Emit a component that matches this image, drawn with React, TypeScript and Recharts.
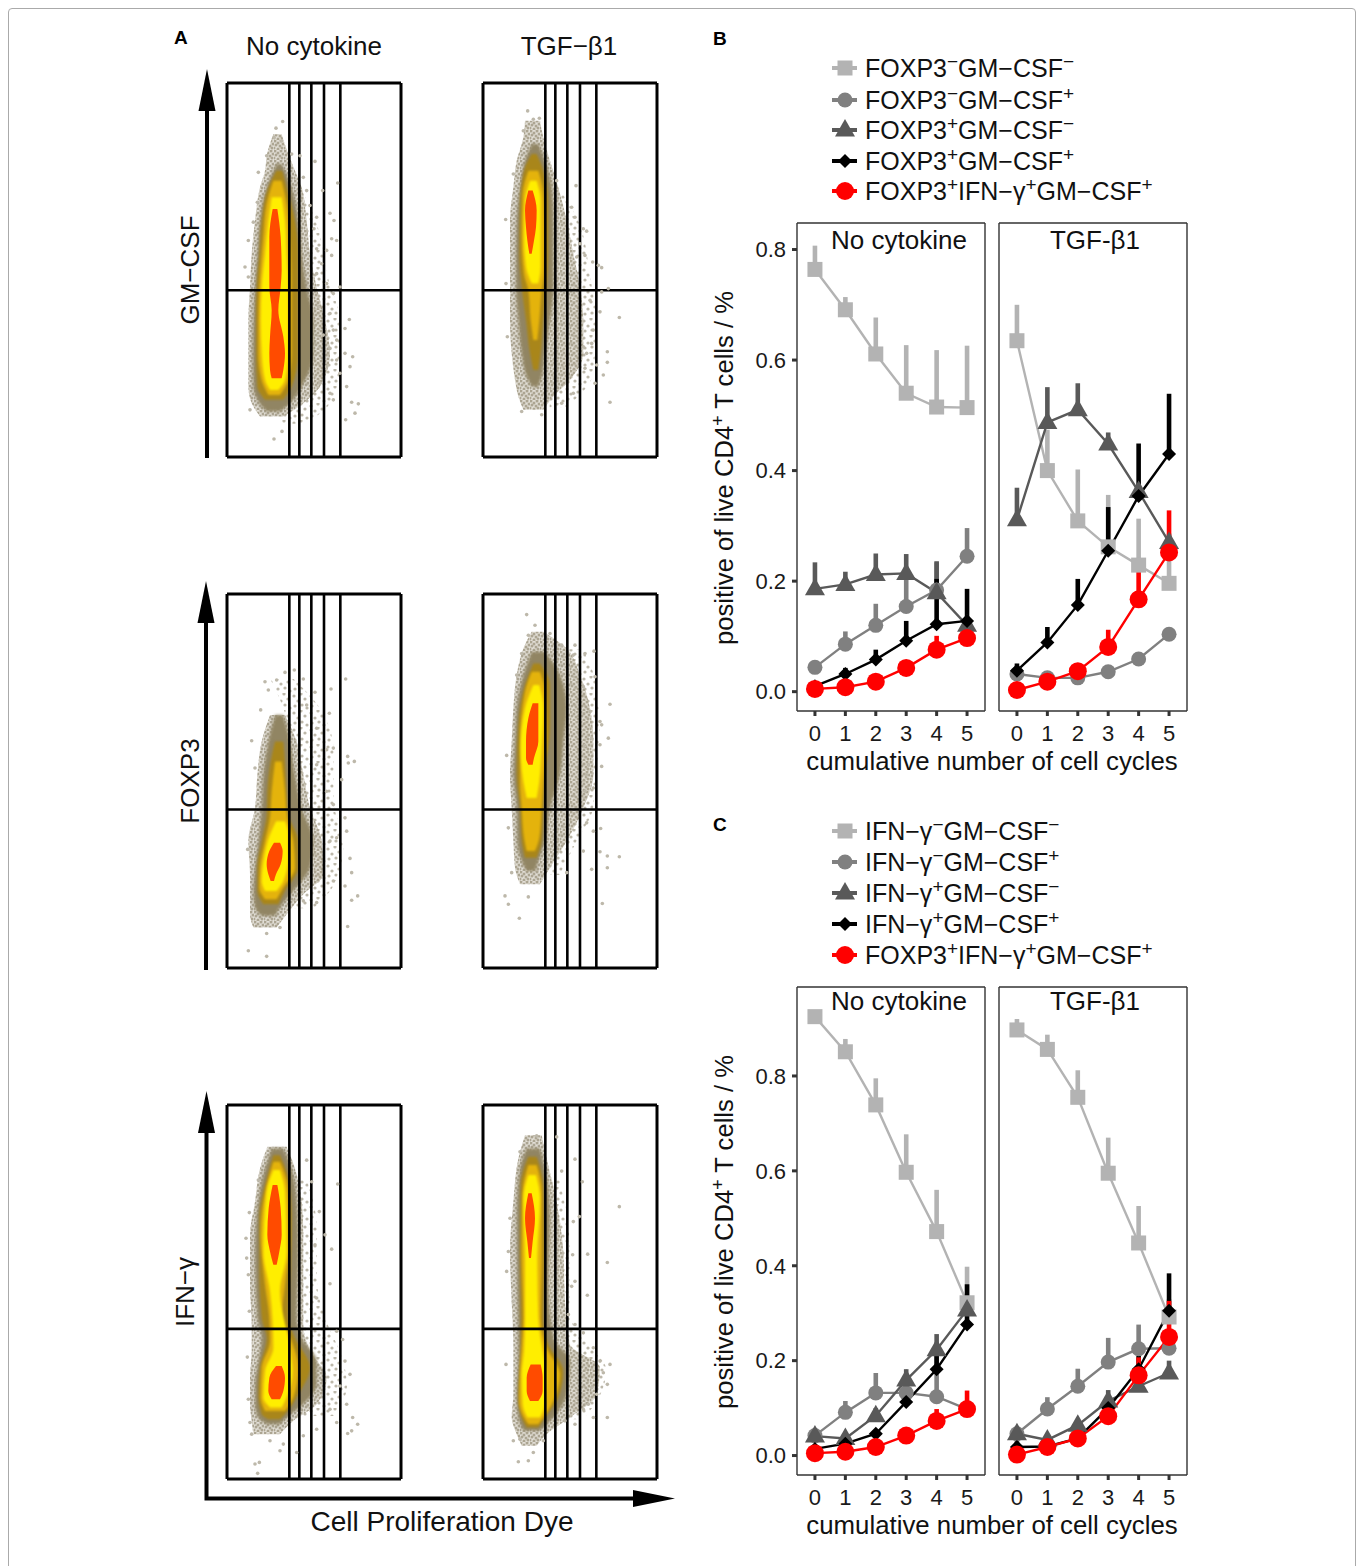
import { Area, ComposedChart, ErrorBar, Line, LineChart, ReferenceLine, Scatter, XAxis, YAxis } from 'recharts'

// flow panels: [marker, dye low, dye high] per density level
type BandRow = [number, number, number]

const gates = [187, 217, 253, 291, 340]

const gmNoHaze: BandRow[] = [[850, 164, 200], [700, 164, 270], [550, 164, 300], [400, 164, 340], [250, 164, 340], [150, 164, 300], [100, 164, 230]]
const gmNoTan: BandRow[] = [[972, 139, 164], [912, 120, 184], [862, 114, 204], [812, 99, 224], [712, 84, 239], [612, 74, 249], [512, 69, 269], [412, 64, 294], [312, 64, 309], [212, 64, 279], [162, 74, 229], [122, 99, 169]]
const gmNoBrown: BandRow[] = [[882, 149, 164], [812, 119, 194], [712, 99, 214], [612, 91, 224], [512, 84, 239], [412, 79, 259], [312, 77, 259], [212, 79, 224], [162, 97, 189], [137, 119, 159]]
const gmNoOlive: BandRow[] = [[862, 148, 166], [812, 124, 179], [712, 104, 204], [612, 97, 214], [512, 89, 214], [412, 87, 214], [312, 87, 214], [212, 91, 194], [172, 114, 169]]
const gmNoGold: BandRow[] = [[832, 139, 164], [762, 119, 179], [662, 109, 189], [512, 97, 194], [412, 94, 194], [312, 94, 194], [232, 104, 184], [187, 124, 159]]
const gmNoYellow: BandRow[] = [[782, 134, 164], [712, 124, 174], [612, 114, 179], [512, 104, 184], [412, 101, 184], [312, 104, 184], [232, 114, 174], [202, 129, 154]]
const gmNoRed: BandRow[] = [[747, 137, 151], [662, 127, 161], [562, 127, 164], [512, 127, 161], [442, 134, 154], [362, 129, 169], [312, 127, 174], [262, 129, 169], [237, 134, 164]]
const gmNoDots = [[167, 1010], [147, 990], [141, 962], [164, 952], [119, 907], [194, 912], [219, 907], [264, 890], [94, 857], [229, 842], [332, 825], [239, 802], [287, 802], [91, 767], [249, 757], [309, 734], [269, 722], [321, 712], [79, 707], [261, 687], [314, 657], [329, 652], [64, 652], [269, 627], [299, 622], [314, 607], [54, 572], [284, 582], [64, 542], [319, 492], [269, 552], [299, 522], [339, 512], [274, 452], [309, 432], [367, 414], [354, 387], [319, 382], [289, 367], [329, 352], [309, 327], [354, 312], [377, 302], [329, 292], [299, 272], [369, 272], [339, 252], [359, 212], [309, 192], [319, 172], [374, 165], [394, 160], [384, 132], [356, 112], [165, 77], [141, 54], [69, 142], [279, 222]]

const gmTgfHaze: BandRow[] = [[850, 181, 200], [700, 200, 290], [550, 200, 320], [400, 200, 340], [250, 200, 330], [150, 200, 250]]
const gmTgfTan: BandRow[] = [[1012, 126, 171], [962, 121, 181], [892, 101, 201], [812, 91, 226], [712, 81, 251], [612, 81, 271], [512, 81, 291], [412, 81, 301], [312, 86, 301], [232, 96, 261], [182, 106, 211], [142, 121, 181]]
const gmTgfBrown: BandRow[] = [[942, 146, 166], [892, 126, 186], [812, 111, 206], [712, 101, 211], [612, 99, 211], [512, 99, 211], [412, 106, 201], [312, 116, 186], [242, 131, 176], [212, 146, 166]]
const gmTgfOlive: BandRow[] = [[912, 146, 161], [862, 123, 181], [762, 111, 196], [612, 109, 196], [512, 116, 191], [412, 129, 181], [312, 141, 173], [262, 151, 166]]
const gmTgfGold: BandRow[] = [[862, 136, 166], [792, 119, 181], [662, 116, 186], [552, 123, 183], [502, 136, 176], [412, 143, 169], [352, 151, 163]]
const gmTgfYellow: BandRow[] = [[832, 141, 161], [772, 126, 173], [662, 123, 173], [572, 129, 173], [522, 146, 166]]
const gmTgfRed: BandRow[] = [[802, 136, 149], [742, 126, 161], [692, 129, 159], [652, 133, 153], [612, 139, 146]]
const gmTgfDots = [[134, 1042], [151, 1017], [169, 1020], [121, 982], [91, 852], [221, 832], [279, 817], [266, 752], [68, 715], [301, 687], [311, 680], [276, 722], [291, 642], [281, 602], [306, 607], [329, 587], [356, 570], [346, 577], [69, 522], [376, 507], [356, 497], [321, 472], [351, 437], [409, 420], [73, 362], [331, 382], [301, 332], [326, 342], [311, 312], [373, 317], [373, 285], [341, 277], [306, 267], [361, 247], [336, 222], [381, 165], [271, 192], [236, 162], [116, 137], [176, 127]]

const foxNoHaze: BandRow[] = [[870, 130, 200], [780, 170, 280], [650, 200, 320], [500, 220, 320], [380, 250, 350], [250, 220, 320], [180, 170, 260]]
const foxNoTan: BandRow[] = [[762, 129, 174], [682, 104, 209], [582, 91, 229], [482, 84, 249], [382, 64, 284], [282, 69, 289], [222, 69, 229], [162, 69, 179], [122, 79, 149]]
const foxNoBrown: BandRow[] = [[762, 144, 169], [682, 124, 189], [582, 109, 204], [482, 104, 224], [382, 94, 259], [302, 84, 249], [232, 79, 199], [182, 84, 159], [157, 104, 144]]
const foxNoOlive: BandRow[] = [[682, 144, 169], [622, 131, 174], [532, 121, 179], [462, 119, 184], [382, 104, 214], [302, 91, 214], [232, 91, 174], [192, 109, 154]]
const foxNoGold: BandRow[] = [[622, 144, 164], [532, 134, 174], [452, 129, 181], [382, 114, 199], [302, 99, 204], [242, 97, 169], [207, 114, 149]]
const foxNoYellow: BandRow[] = [[442, 147, 174], [402, 129, 184], [332, 111, 184], [262, 104, 169], [232, 114, 149]]
const foxNoRed: BandRow[] = [[377, 141, 159], [352, 127, 167], [312, 119, 161], [282, 124, 147], [262, 131, 141]]
const foxNoDots = [[174, 890], [202, 897], [356, 870], [114, 862], [124, 837], [149, 867], [229, 870], [312, 840], [264, 830], [101, 777], [239, 792], [307, 767], [74, 684], [269, 722], [319, 662], [299, 657], [362, 637], [382, 622], [364, 617], [84, 602], [269, 612], [344, 567], [299, 532], [319, 492], [354, 452], [359, 412], [329, 392], [309, 382], [369, 330], [374, 287], [354, 247], [319, 262], [392, 217], [374, 204], [269, 197], [62, 357], [362, 125], [229, 202], [64, 52], [119, 35], [159, 122], [119, 104]]

const foxTgfHaze: BandRow[] = [[960, 190, 300], [850, 250, 340], [700, 280, 350], [600, 280, 340], [480, 250, 330], [380, 200, 280], [280, 150, 230]]
const foxTgfTan: BandRow[] = [[1012, 146, 181], [962, 121, 251], [882, 101, 291], [782, 91, 321], [682, 86, 331], [582, 81, 331], [482, 86, 301], [382, 91, 251], [302, 96, 201], [252, 111, 171]]
const foxTgfBrown: BandRow[] = [[952, 146, 186], [882, 121, 231], [782, 101, 251], [682, 96, 241], [582, 91, 231], [482, 101, 201], [382, 103, 186], [322, 116, 166], [292, 131, 156]]
const foxTgfOlive: BandRow[] = [[917, 151, 171], [852, 126, 201], [732, 106, 201], [582, 101, 186], [482, 111, 181], [382, 116, 176], [332, 126, 161]]
const foxTgfGold: BandRow[] = [[892, 146, 171], [832, 126, 186], [682, 111, 191], [562, 111, 181], [482, 116, 176], [392, 123, 169], [352, 131, 156]]
const foxTgfYellow: BandRow[] = [[852, 151, 169], [782, 126, 181], [662, 113, 176], [562, 121, 169], [512, 131, 161]]
const foxTgfRed: BandRow[] = [[797, 149, 166], [752, 136, 166], [682, 129, 166], [632, 129, 153], [612, 136, 149]]
const foxTgfDots = [[131, 1064], [156, 1032], [201, 1007], [136, 1002], [236, 972], [276, 972], [333, 954], [116, 947], [306, 947], [271, 942], [101, 882], [336, 877], [301, 847], [381, 794], [351, 742], [321, 772], [356, 732], [376, 692], [326, 692], [351, 672], [306, 670], [71, 640], [316, 612], [356, 607], [311, 582], [331, 542], [306, 532], [76, 422], [311, 437], [331, 412], [353, 420], [301, 352], [351, 350], [373, 337], [409, 335], [373, 302], [326, 297], [251, 287], [66, 217], [76, 192], [136, 214], [358, 194], [109, 150], [86, 287]]

const ifnNoHaze: BandRow[] = [[900, 190, 240], [750, 200, 270], [600, 200, 270], [470, 200, 300], [380, 230, 340], [280, 260, 360], [190, 190, 320]]
const ifnNoTan: BandRow[] = [[1000, 121, 179], [935, 99, 204], [835, 84, 224], [735, 69, 229], [585, 69, 229], [465, 74, 229], [385, 74, 249], [305, 69, 299], [225, 69, 269], [175, 74, 199], [135, 79, 159]]
const ifnNoBrown: BandRow[] = [[995, 134, 169], [935, 114, 194], [835, 94, 209], [685, 84, 214], [485, 91, 209], [425, 104, 224], [355, 94, 269], [285, 84, 269], [225, 84, 229], [185, 94, 179], [165, 119, 159]]
const ifnNoOlive: BandRow[] = [[975, 139, 159], [905, 119, 184], [785, 97, 194], [635, 97, 191], [485, 104, 184], [425, 119, 204], [335, 99, 249], [255, 94, 214], [195, 104, 174], [180, 124, 159]]
const ifnNoGold: BandRow[] = [[955, 139, 159], [885, 119, 181], [735, 101, 189], [585, 114, 174], [485, 127, 164], [415, 129, 194], [335, 104, 214], [245, 101, 199], [205, 114, 174]]
const ifnNoYellow: BandRow[] = [[930, 139, 159], [865, 119, 174], [685, 109, 179], [565, 129, 159], [395, 139, 189], [325, 114, 197], [245, 109, 179], [215, 129, 164]]
const ifnNoRed: BandRow[] = [[885, 137, 151], [815, 125, 161], [735, 121, 164], [685, 129, 157], [645, 139, 149]]
const ifnNoRedLow: BandRow[] = [[340, 147, 164], [305, 127, 174], [265, 124, 169], [240, 134, 159]]
const ifnNoDots = [[332, 888], [239, 960], [254, 895], [277, 805], [94, 900], [67, 802], [57, 725], [59, 665], [294, 735], [264, 705], [314, 692], [309, 588], [269, 545], [64, 615], [67, 505], [329, 445], [347, 420], [61, 367], [354, 355], [369, 315], [339, 280], [359, 225], [377, 185], [392, 165], [374, 145], [329, 170], [362, 137], [309, 210], [64, 240], [69, 170], [74, 135], [129, 115], [159, 85], [229, 130], [209, 80], [97, 50], [84, 45], [92, 17], [169, 105], [269, 150]]

const ifnTgfHaze: BandRow[] = [[900, 170, 230], [700, 220, 260], [500, 220, 260], [400, 240, 320], [330, 300, 370], [250, 280, 350], [180, 240, 300]]
const ifnTgfTan: BandRow[] = [[1035, 126, 176], [965, 106, 191], [835, 91, 221], [685, 81, 241], [535, 86, 246], [405, 91, 261], [335, 91, 351], [255, 91, 341], [185, 86, 261], [135, 101, 191], [100, 116, 161]]
const ifnTgfBrown: BandRow[] = [[995, 131, 171], [935, 111, 186], [785, 101, 201], [585, 103, 196], [425, 106, 211], [355, 106, 261], [255, 101, 251], [185, 106, 211], [145, 121, 171]]
const ifnTgfOlive: BandRow[] = [[970, 136, 161], [885, 113, 181], [685, 111, 186], [485, 113, 181], [405, 113, 196], [325, 109, 241], [245, 106, 226], [185, 116, 186], [155, 131, 166]]
const ifnTgfGold: BandRow[] = [[945, 136, 161], [865, 119, 176], [685, 116, 176], [485, 121, 173], [395, 116, 191], [315, 111, 231], [235, 109, 211], [185, 123, 181], [165, 136, 166]]
const ifnTgfYellow: BandRow[] = [[915, 136, 159], [845, 121, 171], [665, 126, 163], [485, 126, 166], [385, 123, 179], [315, 116, 191], [225, 119, 186], [185, 133, 171]]
const ifnTgfRed: BandRow[] = [[860, 136, 146], [785, 126, 156], [715, 133, 149], [665, 138, 144]]
const ifnTgfRedLow: BandRow[] = [[345, 143, 173], [305, 131, 179], [265, 131, 179], [235, 141, 166]]
const ifnTgfDots = [[161, 1033], [221, 1030], [111, 985], [276, 963], [236, 927], [298, 895], [409, 820], [81, 785], [271, 775], [289, 790], [76, 685], [314, 677], [373, 652], [269, 675], [71, 625], [276, 595], [313, 553], [266, 580], [91, 535], [256, 495], [276, 465], [301, 440], [69, 345], [351, 355], [381, 345], [361, 320], [373, 285], [331, 395], [326, 275], [316, 225], [341, 255], [301, 210], [373, 185], [331, 185], [276, 165], [246, 175], [111, 120], [181, 115], [106, 52], [136, 55], [151, 80], [91, 115]]

const BAND_FILLS = ['url(#hazeDots)', 'url(#tanDots)', '#918563', '#a9861a', '#e4b30c', '#ffee00', '#ff4b00', '#ff4b00']
const BAND_BLUR = [0, 0, 1.6, 1.2, 1, 0.8, 0.6, 0.6]

// line panels
const cycles = [0, 1, 2, 3, 4, 5]
const ticksB = [0, 0.2, 0.4, 0.6, 0.8]

const bNoLight = [0.764, 0.691, 0.611, 0.54, 0.515, 0.514]
const bNoLightTop = [0.807, 0.714, 0.677, 0.627, 0.618, 0.626]
const bNoCircle = [0.044, 0.086, 0.12, 0.154, 0.184, 0.245]
const bNoCircleTop = [0.05, 0.109, 0.159, 0.21, 0.234, 0.296]
const bNoTri = [0.186, 0.194, 0.212, 0.214, 0.179, 0.12]
const bNoTriTop = [0.234, 0.217, 0.25, 0.249, 0.236, 0.13]
const bNoDiamond = [0.01, 0.032, 0.058, 0.092, 0.122, 0.128]
const bNoDiamondTop = [0.012, 0.043, 0.076, 0.128, 0.204, 0.186]
const bNoRed = [0.005, 0.008, 0.018, 0.043, 0.076, 0.097]
const bNoRedTop = [0.006, 0.01, 0.022, 0.053, 0.101, 0.109]

const bTgfLight = [0.635, 0.4, 0.309, 0.262, 0.229, 0.196]
const bTgfLightTop = [0.7, 0.474, 0.402, 0.356, 0.313, 0.247]
const bTgfCircle = [0.032, 0.025, 0.025, 0.036, 0.059, 0.104]
const bTgfCircleTop = [0.036, 0.028, 0.028, 0.04, 0.064, 0.108]
const bTgfTri = [0.311, 0.487, 0.51, 0.448, 0.362, 0.27]
const bTgfTriTop = [0.369, 0.551, 0.558, 0.469, 0.372, 0.286]
const bTgfDiamond = [0.038, 0.089, 0.157, 0.255, 0.354, 0.43]
const bTgfDiamondTop = [0.051, 0.117, 0.204, 0.334, 0.449, 0.539]
const bTgfRed = [0.003, 0.018, 0.037, 0.081, 0.167, 0.252]
const bTgfRedTop = [0.005, 0.02, 0.04, 0.112, 0.23, 0.328]

const cNoLight = [0.925, 0.851, 0.739, 0.597, 0.472, 0.322]
const cNoLightTop = [0.93, 0.878, 0.795, 0.677, 0.56, 0.398]
const cNoCircle = [0.042, 0.091, 0.132, 0.132, 0.124, 0.098]
const cNoCircleTop = [0.05, 0.115, 0.174, 0.165, 0.226, 0.1]
const cNoTri = [0.041, 0.036, 0.084, 0.159, 0.223, 0.307]
const cNoTriTop = [0.05, 0.04, 0.1, 0.182, 0.256, 0.33]
const cNoDiamond = [0.014, 0.025, 0.046, 0.113, 0.182, 0.276]
const cNoDiamondTop = [0.02, 0.03, 0.05, 0.13, 0.23, 0.361]
const cNoRed = [0.005, 0.008, 0.018, 0.042, 0.073, 0.098]
const cNoRedTop = [0.006, 0.01, 0.02, 0.05, 0.098, 0.137]

const cTgfLight = [0.897, 0.856, 0.755, 0.595, 0.448, 0.292]
const cTgfLightTop = [0.92, 0.887, 0.812, 0.67, 0.526, 0.33]
const cTgfCircle = [0.046, 0.098, 0.146, 0.197, 0.225, 0.226]
const cTgfCircleTop = [0.05, 0.123, 0.183, 0.248, 0.276, 0.24]
const cTgfTri = [0.046, 0.033, 0.064, 0.115, 0.146, 0.174]
const cTgfTriTop = [0.05, 0.04, 0.075, 0.138, 0.16, 0.2]
const cTgfDiamond = [0.018, 0.019, 0.036, 0.1, 0.182, 0.305]
const cTgfDiamondTop = [0.03, 0.025, 0.045, 0.12, 0.21, 0.384]
const cTgfRed = [0.002, 0.018, 0.036, 0.083, 0.169, 0.25]
const cTgfRedTop = [0.003, 0.02, 0.04, 0.09, 0.207, 0.326]

const SERIES_COLORS = ['#b3b3b3', '#808080', '#595959', '#000000', '#ff0000']
const SERIES_SHAPES = ['square', 'circle', 'triangle', 'diamond', 'dot']

const legendB = [
  [['FOXP3', '−'], ['GM−CSF', '−']],
  [['FOXP3', '−'], ['GM−CSF', '+']],
  [['FOXP3', '+'], ['GM−CSF', '−']],
  [['FOXP3', '+'], ['GM−CSF', '+']],
  [['FOXP3', '+'], ['IFN−γ', '+'], ['GM−CSF', '+']],
]
const legendC = [
  [['IFN−γ', '−'], ['GM−CSF', '−']],
  [['IFN−γ', '−'], ['GM−CSF', '+']],
  [['IFN−γ', '+'], ['GM−CSF', '−']],
  [['IFN−γ', '+'], ['GM−CSF', '+']],
  [['FOXP3', '+'], ['IFN−γ', '+'], ['GM−CSF', '+']],
]

const FONT = '"Liberation Sans", Arial, sans-serif'

function Marker({ shape, cx, cy, color }: { shape: string; cx: number; cy: number; color: string }) {
  if (shape === 'square') return <rect x={cx - 7.5} y={cy - 7.5} width={15} height={15} fill={color} />
  if (shape === 'circle') return <circle cx={cx} cy={cy} r={7.5} fill={color} />
  if (shape === 'dot') return <circle cx={cx} cy={cy} r={9} fill={color} />
  if (shape === 'triangle') return <path d={`M${cx} ${cy - 11}L${cx + 10} ${cy + 6.5}L${cx - 10} ${cy + 6.5}Z`} fill={color} />
  return <path d={`M${cx} ${cy - 7}L${cx + 7} ${cy}L${cx} ${cy + 7}L${cx - 7} ${cy}Z`} fill={color} />
}

function CyclePanel({ left, top, values, tops, domain, ticks, showY }: any) {
  const table = cycles.map((cycle, i) => {
    const row: Record<string, any> = { cycle }
    values.forEach((v: number[], s: number) => {
      row[`s${s}`] = v[i]
      row[`e${s}`] = [0, tops[s][i] - v[i]]
    })
    return row
  })
  const axisW = showY ? 60 : 0
  const w = 188
  const h = 488
  return (
    <div style={{ position: 'absolute', left: left - axisW - 2, top: top - 2 }}>
      <LineChart
        width={w + axisW + 4}
        height={h + 42}
        data={table}
        margin={{ top: 2, right: 2, bottom: 0, left: 2 }}
        style={{ fontFamily: FONT }}
      >
        <XAxis
          dataKey="cycle"
          type="number"
          domain={[-0.59, 5.59]}
          ticks={cycles}
          height={40}
          tickSize={5}
          tickMargin={9}
          axisLine={false}
          interval={0}
          tickLine={{ stroke: '#333', strokeWidth: 3 }}
          tick={{ fontSize: 22, fill: '#1a1a1a' }}
        />
        <YAxis
          hide={!showY}
          type="number"
          domain={domain}
          ticks={ticks}
          width={axisW}
          tickSize={5}
          tickMargin={6}
          axisLine={false}
          interval={0}
          tickFormatter={(v: number) => v.toFixed(1)}
          tickLine={{ stroke: '#333', strokeWidth: 3 }}
          tick={{ fontSize: 22, fill: '#1a1a1a' }}
        />
        {values.map((_: number[], s: number) => (
          <Line
            key={s}
            dataKey={`s${s}`}
            stroke={SERIES_COLORS[s]}
            strokeWidth={2.4}
            isAnimationActive={false}
            dot={(p: any) => <Marker key={p.index} shape={SERIES_SHAPES[s]} cx={p.cx} cy={p.cy} color={SERIES_COLORS[s]} />}
          >
            <ErrorBar dataKey={`e${s}`} direction="y" width={0} strokeWidth={4.6} stroke={SERIES_COLORS[s]} isAnimationActive={false} />
          </Line>
        ))}
        <ReferenceLine x={-0.59} stroke="#333" strokeWidth={1.4} />
        <ReferenceLine x={5.59} stroke="#333" strokeWidth={1.4} />
        <ReferenceLine y={domain[0]} stroke="#333" strokeWidth={1.4} />
        <ReferenceLine y={domain[1]} stroke="#333" strokeWidth={1.4} />
      </LineChart>
    </div>
  )
}

const toBand = (rows: BandRow[]) => rows.map(([marker, lo, hi]) => ({ marker, range: [lo, hi] }))
const toDots = (rows: number[][]) => rows.map(([dye, marker]) => ({ dye, marker }))

// speckle tiles for the sparse outer events
const hazeTile = [[2, 3], [9, 1], [6, 8], [13, 6], [3, 13], [10, 12], [15, 15]]
const tanTile = [[1, 1], [4, 3], [7, 1], [9, 4], [2, 5], [6, 6], [0, 8], [4, 9], [8, 8]]

function DensityPanel({ left, top, bands, dots, split }: any) {
  return (
    <div style={{ position: 'absolute', left: left - 3, top: top - 3 }}>
      <ComposedChart width={180} height={380} layout="vertical" margin={{ top: 3, right: 3, bottom: 3, left: 3 }}>
        <defs>
          <pattern id="hazeDots" width={17} height={17} patternUnits="userSpaceOnUse">
            {hazeTile.map(([x, y], i) => <circle key={i} cx={x} cy={y} r={1.6} fill="#bdb8aa" />)}
          </pattern>
          <pattern id="tanDots" width={10} height={10} patternUnits="userSpaceOnUse">
            <rect width={10} height={10} fill="#cfcabd" fillOpacity={0.6} />
            {tanTile.map(([x, y], i) => <circle key={i} cx={x} cy={y} r={1.5} fill="#aca592" />)}
          </pattern>
        </defs>
        <XAxis dataKey="dye" type="number" domain={[0, 522]} hide />
        <YAxis dataKey="marker" type="number" domain={[0, 1126]} reversed hide />
        {bands.map((rows: BandRow[], i: number) => (
          <Area
            key={i}
            data={toBand(rows)}
            dataKey="range"
            type="monotone"
            stroke="none"
            fill={BAND_FILLS[i]}
            fillOpacity={1}
            dot={false}
            activeDot={false}
            isAnimationActive={false}
            style={{ filter: BAND_BLUR[i] ? `blur(${BAND_BLUR[i]}px)` : undefined }}
          />
        ))}
        <Scatter data={toDots(dots)} fill="#bdb8aa" isAnimationActive={false} shape={(p: any) => <circle cx={p.cx} cy={p.cy} r={1.8} fill="#bdb8aa" />} />
        {gates.map((g) => (
          <ReferenceLine key={g} x={g} stroke="#000" strokeWidth={2.6} />
        ))}
        <ReferenceLine y={split} stroke="#000" strokeWidth={2.6} />
        <ReferenceLine x={0} stroke="#000" strokeWidth={3} />
        <ReferenceLine x={522} stroke="#000" strokeWidth={3} />
        <ReferenceLine y={0} stroke="#000" strokeWidth={3} />
        <ReferenceLine y={1126} stroke="#000" strokeWidth={3} />
      </ComposedChart>
    </div>
  )
}

function LegendBlock({ rows, ys }: { rows: string[][][]; ys: number[] }) {
  return (
    <>
      {rows.map((parts, i) => (
        <g key={i}>
          <line x1={832} x2={857} y1={ys[i]} y2={ys[i]} stroke={SERIES_COLORS[i]} strokeWidth={4} />
          <Marker shape={SERIES_SHAPES[i]} cx={845} cy={ys[i]} color={SERIES_COLORS[i]} />
          <text x={865} y={ys[i] + 9} fontSize={25} fill="#111">
            {parts.map(([t, sup], j) => (
              <tspan key={j}>
                <tspan dy={j === 0 ? 0 : 9}>{t}</tspan>
                <tspan dy={-9} fontSize={19}>{sup}</tspan>
              </tspan>
            ))}
          </text>
        </g>
      ))}
    </>
  )
}

const DENSITY = [
  { left: 227, top: 83, split: 502, bands: [gmNoHaze, gmNoTan, gmNoBrown, gmNoOlive, gmNoGold, gmNoYellow, gmNoRed], dots: gmNoDots },
  { left: 483, top: 83, split: 502, bands: [gmTgfHaze, gmTgfTan, gmTgfBrown, gmTgfOlive, gmTgfGold, gmTgfYellow, gmTgfRed], dots: gmTgfDots },
  { left: 227, top: 594, split: 477, bands: [foxNoHaze, foxNoTan, foxNoBrown, foxNoOlive, foxNoGold, foxNoYellow, foxNoRed], dots: foxNoDots },
  { left: 483, top: 594, split: 477, bands: [foxTgfHaze, foxTgfTan, foxTgfBrown, foxTgfOlive, foxTgfGold, foxTgfYellow, foxTgfRed], dots: foxTgfDots },
  { left: 227, top: 1105, split: 452, bands: [ifnNoHaze, ifnNoTan, ifnNoBrown, ifnNoOlive, ifnNoGold, ifnNoYellow, ifnNoRed, ifnNoRedLow], dots: ifnNoDots },
  { left: 483, top: 1105, split: 452, bands: [ifnTgfHaze, ifnTgfTan, ifnTgfBrown, ifnTgfOlive, ifnTgfGold, ifnTgfYellow, ifnTgfRed, ifnTgfRedLow], dots: ifnTgfDots },
]

export default function App() {
  return (
    <div style={{ position: 'absolute', left: 0, top: 0, width: 1359, height: 1566, background: '#fff', overflow: 'hidden', fontFamily: FONT }}>
      <div style={{ position: 'absolute', left: 8, top: 8, width: 1346, height: 1570, border: '1px solid #aaa', borderRadius: 4 }} />

      {DENSITY.map((p, i) => (
        <DensityPanel key={i} {...p} />
      ))}

      <CyclePanel left={797} top={223} showY domain={[-0.035, 0.848]} ticks={ticksB}
        values={[bNoLight, bNoCircle, bNoTri, bNoDiamond, bNoRed]} tops={[bNoLightTop, bNoCircleTop, bNoTriTop, bNoDiamondTop, bNoRedTop]} />
      <CyclePanel left={999} top={223} domain={[-0.035, 0.848]} ticks={ticksB}
        values={[bTgfLight, bTgfCircle, bTgfTri, bTgfDiamond, bTgfRed]} tops={[bTgfLightTop, bTgfCircleTop, bTgfTriTop, bTgfDiamondTop, bTgfRedTop]} />
      <CyclePanel left={797} top={987} showY domain={[-0.041, 0.9875]} ticks={ticksB}
        values={[cNoLight, cNoCircle, cNoTri, cNoDiamond, cNoRed]} tops={[cNoLightTop, cNoCircleTop, cNoTriTop, cNoDiamondTop, cNoRedTop]} />
      <CyclePanel left={999} top={987} domain={[-0.041, 0.9875]} ticks={ticksB}
        values={[cTgfLight, cTgfCircle, cTgfTri, cTgfDiamond, cTgfRed]} tops={[cTgfLightTop, cTgfCircleTop, cTgfTriTop, cTgfDiamondTop, cTgfRedTop]} />

      <svg width={1359} height={1566} style={{ position: 'absolute', left: 0, top: 0, pointerEvents: 'none' }} fontFamily={FONT}>
        <text x={174} y={44} fontSize={19} fontWeight="bold">A</text>
        <text x={713} y={45} fontSize={19} fontWeight="bold">B</text>
        <text x={713} y={831} fontSize={19} fontWeight="bold">C</text>

        <text x={314} y={55} fontSize={26} textAnchor="middle" fill="#111">No cytokine</text>
        <text x={569} y={55} fontSize={26} textAnchor="middle" fill="#111">TGF−β1</text>
        <text x={442} y={1531} fontSize={28} textAnchor="middle" fill="#111">Cell Proliferation Dye</text>

        <text transform="translate(199 270) rotate(-90)" fontSize={26} textAnchor="middle" fill="#111">GM−CSF</text>
        <text transform="translate(199 781) rotate(-90)" fontSize={26} textAnchor="middle" fill="#111">FOXP3</text>
        <text transform="translate(194 1292) rotate(-90)" fontSize={26} textAnchor="middle" fill="#111">IFN−γ</text>

        <path d="M207 458V105" stroke="#000" strokeWidth={4} fill="none" />
        <path d="M207 69L215.5 111H198.5Z" fill="#000" />
        <path d="M206 970V615" stroke="#000" strokeWidth={4} fill="none" />
        <path d="M206 581L214.5 623H197.5Z" fill="#000" />
        <path d="M206.5 1125V1498.5H640" stroke="#000" strokeWidth={4} fill="none" />
        <path d="M206.5 1091L215 1133H198Z" fill="#000" />
        <path d="M675 1498.5L633 1490V1507Z" fill="#000" />

        <LegendBlock rows={legendB} ys={[68, 100, 130, 161, 191]} />
        <LegendBlock rows={legendC} ys={[831, 862, 893, 924, 955]} />

        <text x={899} y={249} fontSize={26} textAnchor="middle" fill="#111">No cytokine</text>
        <text x={1095} y={249} fontSize={26} textAnchor="middle" fill="#111">TGF-β1</text>
        <text x={899} y={1010} fontSize={26} textAnchor="middle" fill="#111">No cytokine</text>
        <text x={1095} y={1010} fontSize={26} textAnchor="middle" fill="#111">TGF-β1</text>

        <text x={992} y={770} fontSize={25.8} textAnchor="middle" fill="#111">cumulative number of cell cycles</text>
        <text x={992} y={1534} fontSize={25.8} textAnchor="middle" fill="#111">cumulative number of cell cycles</text>

        {[468, 1232].map((cy) => (
          <text key={cy} transform={`translate(733 ${cy}) rotate(-90)`} fontSize={25.6} textAnchor="middle" fill="#111">
            positive of live CD4<tspan dy={-9} fontSize={18}>+</tspan><tspan dy={9}> T cells / %</tspan>
          </text>
        ))}
      </svg>
    </div>
  )
}
